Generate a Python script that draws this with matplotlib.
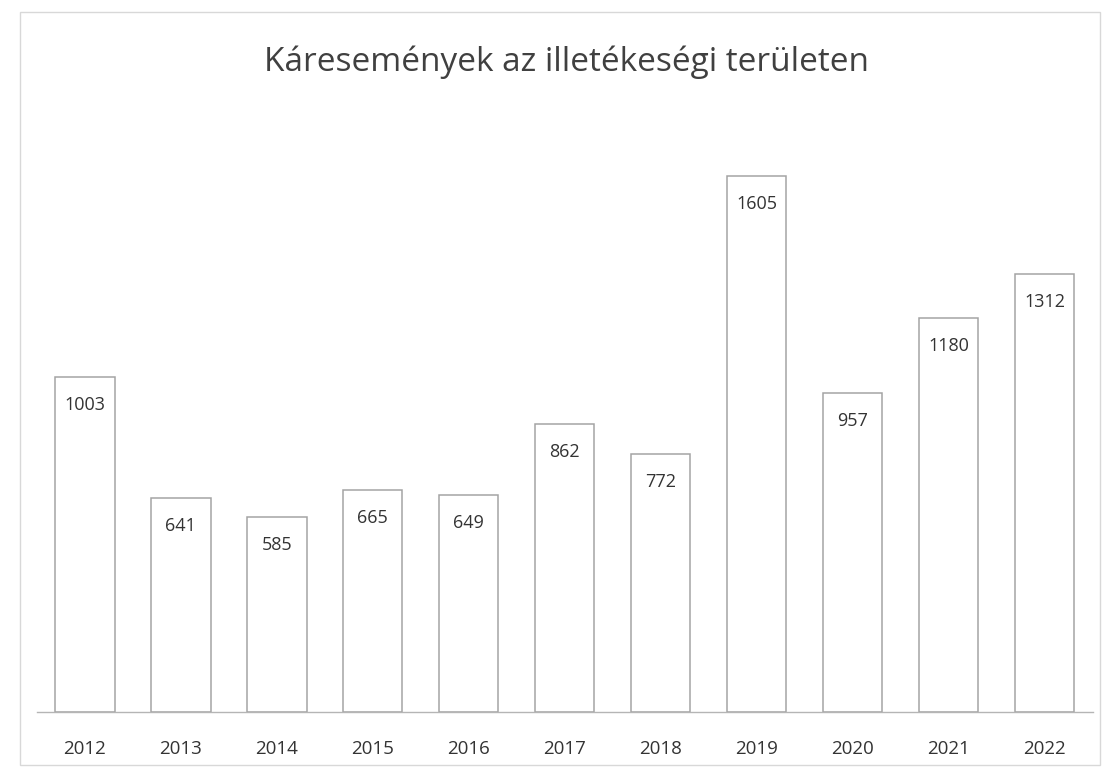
import matplotlib.pyplot as plt
from matplotlib.patches import Rectangle

# Data
years = ['2012', '2013', '2014', '2015', '2016', '2017',
         '2018', '2019', '2020', '2021', '2022']
events = [1003, 641, 585, 665, 649, 862, 772, 1605, 957, 1180, 1312]

title = 'Káresemények az illetékeségi területen'

plt.rcParams['font.family'] = ['Open Sans', 'DejaVu Sans']

fig = plt.figure(figsize=(11.16, 7.73), dpi=100)
ax = fig.add_axes([0.033, 0.079, 0.946, 0.777])

x = range(len(years))
bars = ax.bar(x, events, width=0.62, color='white',
              edgecolor='#a4a4a4', linewidth=1.1, zorder=2)

# value labels inside the bars, near the top
for rect, val in zip(bars, events):
    ax.annotate(str(val),
                xy=(rect.get_x() + rect.get_width() / 2, rect.get_height()),
                xytext=(0, -28), textcoords='offset pixels',
                ha='center', va='center', fontsize=13, color='#333333')

ax.set_xlim(-0.5, len(years) - 0.5)
ax.set_ylim(0, 1800)
ax.set_xticks(list(x))
ax.set_xticklabels(years, fontsize=13.5, color='#333333')
ax.tick_params(axis='x', length=0, pad=20)
ax.set_yticks([])

for side in ['top', 'right', 'left']:
    ax.spines[side].set_visible(False)
ax.spines['bottom'].set_color('#b5b5b5')
ax.spines['bottom'].set_linewidth(1.0)

fig.text(0.508, 0.92, title, ha='center', va='center',
         fontsize=24, color='#404040')

# faint frame around the chart area (as in the scanned original)
fig.patches.append(Rectangle((0.018, 0.01), 0.968, 0.975, transform=fig.transFigure,
                             fill=False, edgecolor='#d8d8d8', linewidth=1.0))

plt.savefig('out.png', dpi=100)
plt.close()
